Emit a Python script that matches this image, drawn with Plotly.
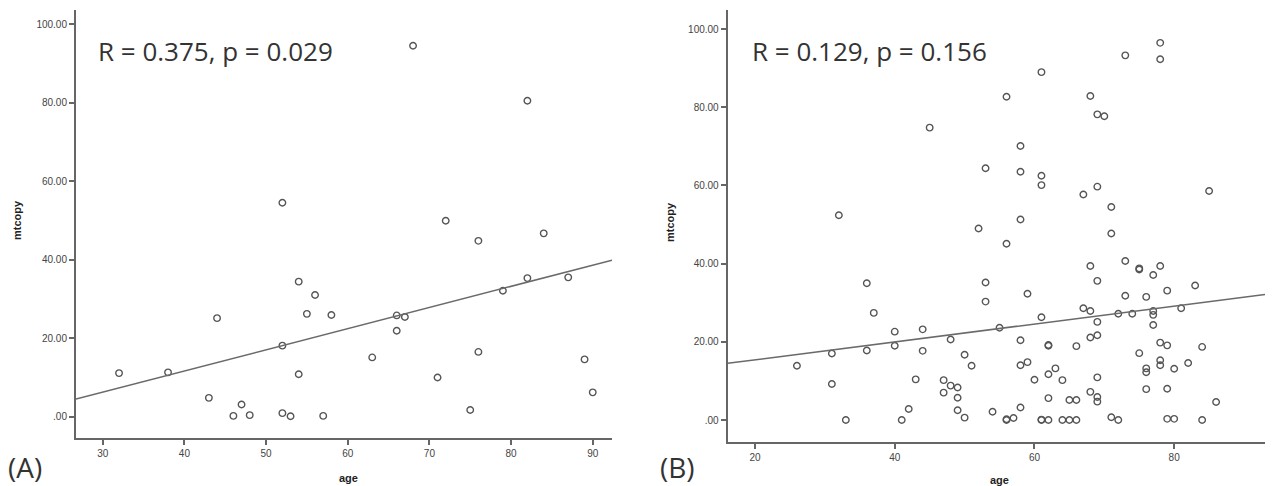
import plotly.graph_objects as go

# ---------------- data ----------------
a_age = [32, 38, 43, 44, 46, 47, 48, 52, 53, 52, 54, 54, 55, 56, 52, 58, 63, 66, 66, 67,
         57, 71, 75, 76, 76, 72, 84, 68, 82, 79, 82, 87, 89, 90]
a_mtcopy = [11.1, 11.3, 4.8, 25.1, 0.2, 3.1, 0.4, 0.9, 0.1, 18.1, 34.4, 10.8, 26.2, 31.0, 54.5,
            25.9, 15.1, 25.8, 21.9, 25.4, 0.2, 10.0, 1.7, 16.5, 44.8, 49.9, 46.7, 94.5, 80.5,
            32.1, 35.3, 35.5, 14.6, 6.2]

b_age = [32, 45, 78, 78, 73, 61, 56, 68, 69, 70, 58, 53, 58, 61, 61, 69, 67, 85, 71, 58,
         52, 56, 71,
         68, 73, 75, 75, 78, 77, 69, 83, 53, 53, 59, 79, 73, 76, 67, 68, 77, 77, 72, 74, 81,
         61, 69, 77, 55, 48, 68, 69, 58, 62, 62, 66, 78, 79, 84, 75, 50, 51, 58, 59, 78, 78,
         76, 76, 80, 82, 62, 63, 60, 64, 69, 48, 49, 49, 49, 50, 68, 69, 69, 62, 65, 66, 76,
         79, 86, 58, 54, 56, 56, 57, 61, 61, 62, 64, 65, 66, 71, 72, 79, 80, 84,
         26, 31, 31, 33, 36, 37, 36, 40, 40, 44, 44, 43, 42, 41, 47, 47]
b_mtcopy = [52.4, 74.8, 96.5, 92.3, 93.3, 89.0, 82.7, 82.9, 78.2, 77.7, 70.1, 64.4, 63.5, 62.5,
            60.1, 59.7, 57.7, 58.6, 54.5, 51.3, 49.0, 45.1, 47.7,
            39.4, 40.7, 38.8, 38.5, 39.4, 37.1, 35.6, 34.4, 35.2, 30.3, 32.3, 33.1, 31.8, 31.5,
            28.6, 27.9, 27.9, 26.9, 27.2, 27.2, 28.6, 26.3, 25.1, 24.3, 23.6, 20.6, 21.1, 21.7,
            20.4, 19.2, 19.0, 18.9, 19.8, 19.1, 18.7, 17.1, 16.7, 13.9, 14.0, 14.8, 15.3, 14.0,
            13.2, 12.2, 13.1, 14.6, 11.7, 13.2, 10.3, 10.2, 10.9, 8.8, 8.3, 5.7, 2.5, 0.6, 7.2,
            5.9, 4.7, 5.6, 5.1, 5.1, 7.9, 8.0, 4.6, 3.2, 2.1, 0.2, 0.0, 0.5, 0.0, 0.1, 0.0, 0.0,
            0.0, 0.0, 0.7, 0.0, 0.3, 0.3, 0.0,
            13.9, 17.0, 9.2, 0.0, 35.0, 27.4, 17.8, 22.6, 19.0, 23.2, 17.7, 10.4, 2.8, 0.0,
            10.2, 7.0]

# fitted regression lines (intercept, slope) as drawn in the figure
a_fit = (-9.91, 0.539)
b_fit = (10.82, 0.229)

a_xrange = [26.73, 92.36]
a_yrange = [-5.35, 103.6]
b_xrange = [16.09, 93.0]
b_yrange = [-5.55, 104.9]

a_xticks = [30, 40, 50, 60, 70, 80, 90]
b_xticks = [20, 40, 60, 80]
y_tickvals = [0, 20, 40, 60, 80, 100]
y_ticktext = [".00", "20.00", "40.00", "60.00", "80.00", "100.00"]

a_label = "R = 0.375, p = 0.029"
b_label = "R = 0.129, p = 0.156"

# ---------------- figure ----------------
W, H = 1273, 486
mk = dict(symbol="circle-open", size=6.5, color="#555555", line=dict(width=1.4, color="#555555"))
line_style = dict(color="#6a6a6a", width=1.5)

fig = go.Figure()
fig.add_trace(go.Scatter(x=a_age, y=a_mtcopy, mode="markers", marker=mk,
                         xaxis="x", yaxis="y", showlegend=False))
fig.add_trace(go.Scatter(x=a_xrange, y=[a_fit[0] + a_fit[1] * v for v in a_xrange], mode="lines",
                         line=line_style, xaxis="x", yaxis="y", showlegend=False))
fig.add_trace(go.Scatter(x=b_age, y=b_mtcopy, mode="markers", marker=mk,
                         xaxis="x2", yaxis="y2", showlegend=False))
fig.add_trace(go.Scatter(x=b_xrange, y=[b_fit[0] + b_fit[1] * v for v in b_xrange], mode="lines",
                         line=line_style, xaxis="x2", yaxis="y2", showlegend=False))

ax_common = dict(showgrid=False, zeroline=False, showline=True, linecolor="#666666", linewidth=2,
                 ticks="outside", ticklen=5, tickwidth=1.5, tickcolor="#666666",
                 tickfont=dict(family="Liberation Sans, Arial", size=10, color="#444444"))

fig.update_layout(
    width=W, height=H,
    margin=dict(l=0, r=0, t=0, b=0),
    paper_bgcolor="white", plot_bgcolor="white",
    xaxis=dict(domain=[76 / W, 612 / W], range=a_xrange, tickvals=a_xticks, anchor="y", **ax_common),
    yaxis=dict(domain=[(H - 437.7) / H, (H - 10) / H], range=a_yrange, tickvals=y_tickvals,
               ticktext=y_ticktext, anchor="x", **ax_common),
    xaxis2=dict(domain=[727.7 / W, 1265 / W], range=b_xrange, tickvals=b_xticks, anchor="y2", **ax_common),
    yaxis2=dict(domain=[(H - 441.7) / H, (H - 10) / H], range=b_yrange, tickvals=y_tickvals,
                ticktext=y_ticktext, anchor="x2", **ax_common),
)

def ann(text, x, y, size, bold=False, angle=0, xanchor="center", family="Liberation Sans, Arial",
        color="#222222"):
    fig.add_annotation(text=f"<b>{text}</b>" if bold else text, x=x / W, y=1 - y / H,
                       xref="paper", yref="paper", showarrow=False, xanchor=xanchor,
                       yanchor="middle", textangle=angle,
                       font=dict(family=family, size=size, color=color))

big = "Open Sans, Noto Sans"
ann(a_label, 96, 51, 26, xanchor="left", family=big, color="#333333")
ann(b_label, 750, 51, 26, xanchor="left", family=big, color="#333333")
ann("(A)", 25, 467, 28, family=big, color="#333333")
ann("(B)", 677, 467, 28, family=big, color="#333333")
ann("age", 348, 478, 11, bold=True)
ann("age", 999, 480, 11, bold=True)
ann("mtcopy", 17, 220, 11, bold=True, angle=-90)
ann("mtcopy", 670, 222, 11, bold=True, angle=-90)

fig.write_html("out.html")
